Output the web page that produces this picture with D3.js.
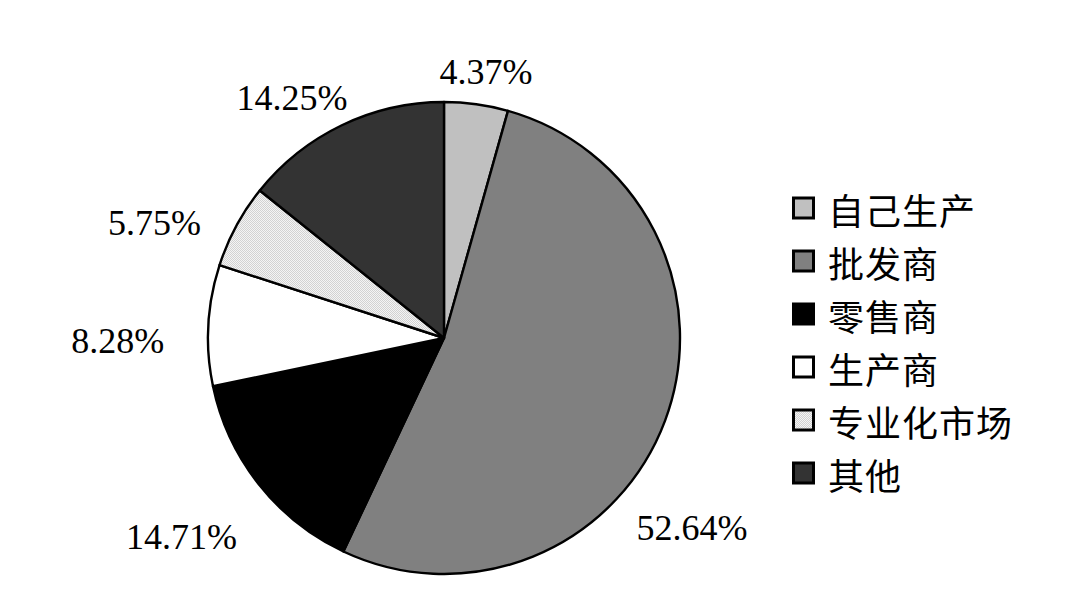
<!DOCTYPE html>
<html>
<head>
<meta charset="utf-8">
<script src="https://cdn.jsdelivr.net/npm/d3@7"></script>
<style>
  html, body { margin: 0; padding: 0; background: #fff; }
  svg { display: block; }
</style>
</head>
<body>
<svg id="chart" width="1088" height="612"></svg>
<script>
// ---- data ----
const categories = ["自己生产", "批发商", "零售商", "生产商", "专业化市场", "其他"];
const values = [4.37, 52.64, 14.71, 8.28, 5.75, 14.25];
const labels = ["4.37%", "52.64%", "14.71%", "8.28%", "5.75%", "14.25%"];

// ---- layout / style (not data) ----
const fills = ["#c0c0c0", "#808080", "#000000", "#ffffff", "url(#dots)", "#333333"];
// label placement: angle shift (deg) from slice mid-angle, and distance from centre
const labelAngleShift = [1.06, 16.9, 1.3, -3.5, -6.45, -6.65];
const labelDist = [270.5, 312, 328.5, 326.2, 311.9, 284.7];

const W = 1088, H = 612;
const cx = 444, cy = 338, R = 236;

const svg = d3.select("#chart");
const defs = svg.append("defs");
const pat = defs.append("pattern").attr("id", "dots")
  .attr("patternUnits", "userSpaceOnUse").attr("width", 2).attr("height", 2);
pat.append("rect").attr("width", 2).attr("height", 2).attr("fill", "#f4f4f4");
pat.append("rect").attr("width", 1).attr("height", 1).attr("fill", "#d2d2d2");
pat.append("rect").attr("x", 1).attr("y", 1).attr("width", 1).attr("height", 1).attr("fill", "#d2d2d2");

const data = categories.map((c, i) => ({ cat: c, value: values[i], label: labels[i], i }));
const pie = d3.pie().sort(null).value(d => d.value);
const arcs = pie(data);
const arc = d3.arc().innerRadius(0).outerRadius(R);

const g = svg.append("g").attr("transform", `translate(${cx},${cy})`);
g.selectAll("path.slice").data(arcs).join("path")
  .attr("class", "slice")
  .attr("d", arc)
  .attr("fill", d => fills[d.data.i])
  .attr("stroke", "#000")
  .attr("stroke-width", 2.4)
  .attr("stroke-linejoin", "round");

g.selectAll("text.lbl").data(arcs).join("text")
  .attr("class", "lbl")
  .attr("text-anchor", "middle")
  .attr("dominant-baseline", "central")
  .attr("font-family", "'Liberation Serif', 'Times New Roman', serif")
  .attr("font-size", 36)
  .attr("fill", "#000")
  .attr("x", d => {
    const a = (d.startAngle + d.endAngle) / 2 + labelAngleShift[d.data.i] * Math.PI / 180;
    return Math.sin(a) * labelDist[d.data.i];
  })
  .attr("y", d => {
    const a = (d.startAngle + d.endAngle) / 2 + labelAngleShift[d.data.i] * Math.PI / 180;
    return -Math.cos(a) * labelDist[d.data.i] + 1;
  })
  .text(d => d.data.label);

// ---- legend ----
const legend = svg.append("g").attr("transform", "translate(793,208)");
const rowH = 53;
const items = legend.selectAll("g.item").data(data).join("g")
  .attr("class", "item")
  .attr("transform", (d, i) => `translate(0,${i * rowH})`);
items.append("rect")
  .attr("x", 0.5).attr("y", -10)
  .attr("width", 20).attr("height", 20)
  .attr("fill", d => fills[d.i])
  .attr("stroke", "#000").attr("stroke-width", 3);
items.append("text")
  .attr("x", 35).attr("y", 1)
  .attr("dominant-baseline", "central")
  .attr("font-family", "'Noto Sans CJK SC', sans-serif")
  .attr("font-size", 36)
  .attr("letter-spacing", 1)
  .attr("fill", "#000")
  .text(d => d.cat);
</script>
</body>
</html>
